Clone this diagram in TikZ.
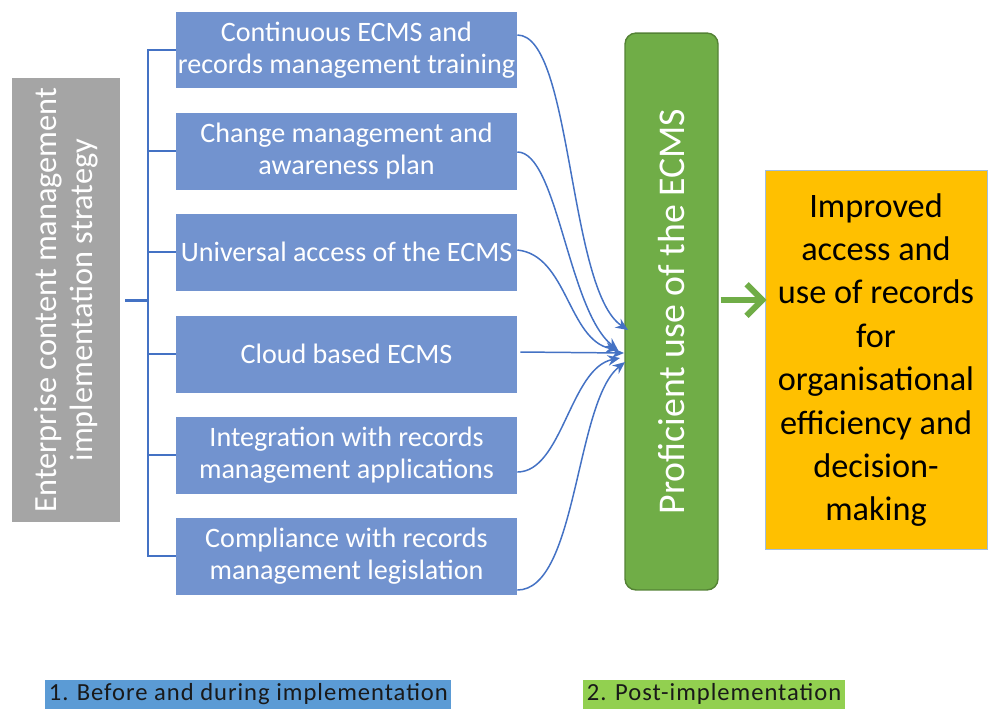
\documentclass[tikz,border=0pt]{standalone}
\usepackage{fontspec}
\setmainfont{Carlito}
\newfontfamily\tagfont[LetterSpace=4]{Carlito}
\usetikzlibrary{arrows.meta}

\definecolor{stratgray}{RGB}{165,165,165}
\definecolor{actblue}{RGB}{114,147,207}
\definecolor{linkblue}{RGB}{68,114,196}
\definecolor{usegreen}{RGB}{112,173,71}
\definecolor{usegreendk}{RGB}{84,130,53}
\definecolor{resorange}{RGB}{255,192,0}
\definecolor{resedge}{RGB}{160,190,225}
\definecolor{tagblue}{RGB}{91,155,213}
\definecolor{taggreen}{RGB}{146,208,80}

\tikzset{
  strat/.style={fill=stratgray, text=white, rotate=90, align=center,
    minimum width=8.88cm, minimum height=2.16cm, inner sep=0pt,
    font=\fontsize{18.4}{20.6}\selectfont},
  act/.style={fill=actblue, text=white, align=center,
    minimum width=6.82cm, minimum height=1.54cm, inner sep=0pt,
    font=\fontsize{16}{18}\selectfont},
  proficient/.style={fill=usegreen, draw=usegreendk, line width=.8pt,
    rounded corners=.22cm, text=white, rotate=90,
    minimum width=11.14cm, minimum height=1.86cm, inner sep=0pt,
    font=\fontsize{21.5}{25}\selectfont},
  result/.style={fill=resorange, draw=resedge, line width=.5pt,
    align=center, minimum width=4.44cm, minimum height=7.58cm, inner sep=0pt,
    font=\fontsize{19.5}{24.7}\selectfont},
  phase/.style={inner xsep=2pt, inner ysep=0pt, minimum height=.58cm,
    text=black!90, font=\tagfont\fontsize{14}{16}\selectfont},
  tick/.style={linkblue, line width=.85pt},
  stem/.style={linkblue, line width=1.7pt},
  link/.style={linkblue, line width=.85pt, -{Stealth[length=7pt,width=6pt]}},
  growth/.style={usegreen, line width=3.4pt, -{Straight Barb[length=9pt,width=18pt]}},
}

\begin{document}
\begin{tikzpicture}[x=0.02cm, y=-0.02cm]
\useasboundingbox (0,0) rectangle (989,711);

% strategy and the six actions
\node[strat] (strat) at (66,300) {Enterprise content management\\implementation strategy};
\foreach \i/\y/\txt in {1/50/{Continuous ECMS and\\records management training},
                        2/151/{Change management and\\awareness plan},
                        3/252/{Universal access of the ECMS},
                        4/354/{Cloud based ECMS},
                        5/455/{Integration with records\\management applications},
                        6/556/{Compliance with records\\management legislation}}
{
    \node[act] (b\i) at (346.5,\y) {\txt};
}

% bracket
\coordinate (fork) at (148,300);
\draw[stem] (strat.south) ++(5,0) -- (fork);
\foreach \i in {1,...,6}
    \draw[tick] (b\i.west) -| (fork);

% outcome boxes
\node[proficient] (use) at (671.5,311.5) {Proficient use of the ECMS};
\node[result] (res) at (876,360) {Improved\\access and\\use of records\\for\\organisational\\efficiency and\\decision-\\making};

% links into the green box
\coordinate (hub) at (624,353);
\draw[link] ([shift={(0,-15)}]b1.east) .. controls +(55,0) and +(-60,-40) .. ([shift={(4,-23)}]hub);
\draw[link] ([shift={(0,1)}]b2.east) .. controls +(40,0) and +(-50,-40) .. ([shift={(-6,-3)}]hub);
\draw[link] ([shift={(0,-2)}]b3.east) .. controls +(50,5) and +(-50,-10) .. ([shift={(-6,-3)}]hub);
\draw[link] ([shift={(3,-2)}]b4.east) -- (hub);
\draw[link] ([shift={(0,17)}]b5.east) .. controls +(45,0) and +(-50,10) .. ([shift={(-4,5)}]hub);
\draw[link] ([shift={(0,34)}]b6.east) .. controls +(60,0) and +(-50,40) .. ([shift={(1,9)}]hub);

\draw[growth] ([shift={(2,-11.5)}]use.south) -- ([shift={(2,-11.5)}]use.south -| res.west);

% phases
\node[phase, fill=tagblue, anchor=west] (before) at (45,694) {1.\ \kern1pt Before and during implementation};
\node[phase, fill=taggreen, anchor=west] (post) at (583,694) {2. Post-implementation};

\end{tikzpicture}
\end{document}
